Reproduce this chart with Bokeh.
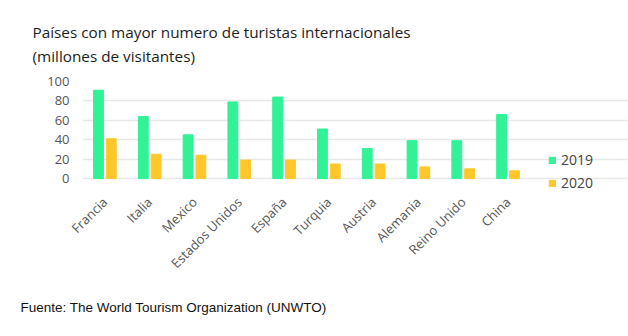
import math
from bokeh.plotting import figure
from bokeh.models import (ColumnDataSource, Range1d, Title, Legend, LegendItem,
                          FixedTicker)
from bokeh.transform import dodge
from bokeh.embed import file_html
from bokeh.resources import INLINE

# Visitantes internacionales (millones) por país
paises = ["Francia", "Italia", "Mexico", "Estados Unidos", "España",
          "Turquia", "Austria", "Alemania", "Reino Unido", "China"]
v2019 = [91, 64, 45, 79, 84, 51, 31, 39, 39, 66]
v2020 = [41, 25, 24, 19, 19, 15, 15, 12, 10, 8]
y_ticks = [0, 20, 40, 60, 80, 100]

GREEN = "#31f296"
YELLOW = "#ffc72c"
TICK_GRAY = "#555555"
FONT = "Open Sans"

idx = list(range(len(paises)))
src = ColumnDataSource(dict(idx=idx, pais=paises, v2019=v2019, v2020=v2020))

# The frame runs to the right edge (room for the legend) and a little below
# zero (so the legend's lower entry stays inside); gridlines are bounded to
# the category span.
p = figure(
    width=628, height=336,
    x_range=Range1d(-0.5, 11.69),
    y_range=Range1d(-14.4, 100),
    output_backend="svg", toolbar_location=None,
    min_border_left=82, min_border_right=0,
    min_border_top=81, min_border_bottom=144,
)
p.outline_line_color = None
p.background_fill_color = "white"
p.border_fill_color = "white"

r19 = p.vbar(x=dodge("idx", -0.143), top="v2019", width=0.22, source=src, color=GREEN)
r20 = p.vbar(x=dodge("idx", 0.143), top="v2020", width=0.22, source=src, color=YELLOW)

# Axes
p.xaxis.ticker = FixedTicker(ticks=idx)
p.xaxis.major_label_overrides = {i: n for i, n in zip(idx, paises)}
p.xaxis.axis_line_color = None
p.xaxis.major_tick_line_color = None
p.xaxis.minor_tick_line_color = None
p.xaxis.major_label_orientation = math.pi / 4
p.xaxis.major_label_text_font = FONT
p.xaxis.major_label_text_font_size = "13px"
p.xaxis.major_label_text_color = TICK_GRAY
p.xaxis.major_label_standoff = 1

p.yaxis.axis_line_color = None
p.yaxis.major_tick_line_color = None
p.yaxis.minor_tick_line_color = None
p.yaxis.ticker = y_ticks
p.yaxis.major_label_text_font = FONT
p.yaxis.major_label_text_font_size = "13px"
p.yaxis.major_label_text_color = TICK_GRAY
p.yaxis.major_label_standoff = 7

p.xgrid.grid_line_color = None
p.ygrid.grid_line_color = "#e8e8e8"
p.ygrid.grid_line_width = 1.5
p.ygrid.ticker = y_ticks
p.ygrid.bounds = (-0.5, len(paises) - 0.5)

legend = Legend(
    items=[LegendItem(label="2019", renderers=[r19]),
           LegendItem(label="2020", renderers=[r20])],
    location=(466, 0),
    orientation="vertical",
    glyph_width=8, glyph_height=8,
    label_height=16, spacing=4, label_standoff=5,
    padding=0, margin=0,
    border_line_color=None, background_fill_alpha=0,
    label_text_font=FONT, label_text_font_size="14px",
    label_text_color="#444444",
)
p.add_layout(legend, "center")

# Two-line heading and source note
p.add_layout(Title(text="Países con mayor numero de turistas internacionales\n"
                        "(millones de visitantes)",
                   align="left", offset=-50, standoff=30, text_line_height=1.22,
                   text_font=FONT, text_font_size="15.3px",
                   text_font_style="normal", text_color="#1c1c1c"), "above")

p.add_layout(Title(text="Fuente: The World Tourism Organization (UNWTO)",
                   align="left", offset=-62, standoff=33,
                   text_font="Liberation Sans", text_font_size="13.5px",
                   text_font_style="normal", text_color="#111111"), "below")

open("out.html", "w").write(file_html(p, INLINE))
